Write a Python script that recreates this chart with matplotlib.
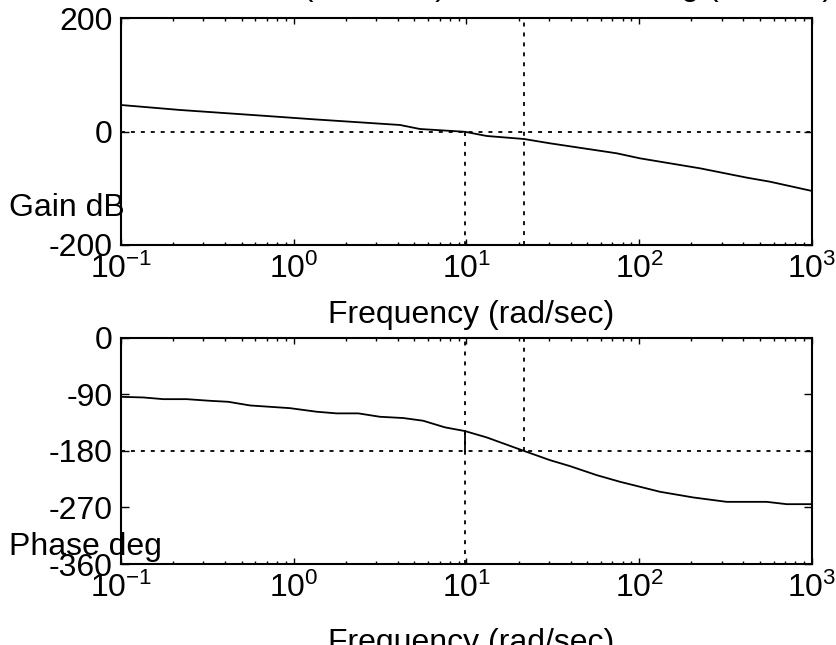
import numpy as np
import matplotlib
matplotlib.use('Agg')
import matplotlib.pyplot as plt
from matplotlib.ticker import LogLocator, NullFormatter, FixedLocator, FixedFormatter

plt.rcParams['font.family'] = ['Liberation Sans', 'DejaVu Sans']
plt.rcParams['mathtext.fontset'] = 'custom'
plt.rcParams['mathtext.rm'] = 'Liberation Sans'
plt.rcParams['mathtext.it'] = 'Liberation Sans:italic'
plt.rcParams['mathtext.bf'] = 'Liberation Sans:bold'

# ---- data ----
gain_freq = [0.1, 0.22, 0.70, 1.30, 4.12, 5.38, 9.79, 13.1, 21.5, 30.4, 74.0, 101.0, 225.0, 419.0, 570.0, 1000.0]
gain_db = [46.7, 37.9, 27.3, 21.5, 11.5, 4.4, -0.5, -7.9, -13.2, -20.8, -38.4, -47.3, -64.9, -81.3, -88.4, -104.8]

phase_freq = [0.1, 0.1346, 0.176, 0.240, 0.327, 0.418, 0.558, 0.951, 1.358, 1.77, 2.366, 3.155,
              4.305, 5.61, 7.50, 9.79, 13.09, 21.53, 30.4, 39.7, 56.6, 77.3, 131.8, 205.0,
              320.6, 545.8, 712.9, 1000.0]
phase_deg = [-94.3, -95.3, -98.0, -98.0, -100.6, -102.2, -108.0, -112.3, -118.0, -120.6, -120.6, -126.0,
             -128.0, -132.3, -142.8, -148.7, -158.8, -180.3, -194.9, -204.4, -218.7, -229.3, -245.2, -254.2,
             -261.2, -261.2, -264.9, -264.9]

gm_db = 13.16
w_gm = 21.54
pm_deg = 31.268
w_pm = 9.79
phase_at_wpm = -148.7

x_ticks = [0.1, 1, 10, 100, 1000]
x_labels = [r'$\mathregular{10^{-1}}$', r'$\mathregular{10^{0}}$', r'$\mathregular{10^{1}}$',
            r'$\mathregular{10^{2}}$', r'$\mathregular{10^{3}}$']
gain_ticks = [-200, 0, 200]
phase_ticks = [-360, -270, -180, -90, 0]

W, H = 837, 645
fig = plt.figure(figsize=(W / 100, H / 100), dpi=100)

def fx(px):
    return px / W

def fy(py):
    return 1 - py / H

left, right = 121, 812
ax1 = fig.add_axes([fx(left), fy(245), fx(right - left), (245 - 18) / H])
ax2 = fig.add_axes([fx(left), fy(564), fx(right - left), (564 - 337.5) / H])

FS = 23
dot = (0, (2.2, 3.3))

for ax in (ax1, ax2):
    ax.set_xscale('log')
    ax.set_xlim(0.1, 1000)
    ax.xaxis.set_major_locator(FixedLocator(x_ticks))
    ax.xaxis.set_major_formatter(FixedFormatter(x_labels))
    ax.xaxis.set_minor_locator(LogLocator(base=10, subs=np.arange(2, 10), numticks=20))
    ax.xaxis.set_minor_formatter(NullFormatter())
    ax.tick_params(which='both', direction='in', top=True, right=True, labelsize=FS, width=1.0, color='black')
    ax.tick_params(axis='x', which='major', length=4.5, pad=6)
    ax.tick_params(axis='x', which='minor', length=2.2)
    ax.tick_params(axis='y', which='major', length=5.5, pad=6)
    for s in ax.spines.values():
        s.set_linewidth(1.5)

# Gain plot
ax1.set_ylim(-200, 200)
ax1.set_yticks(gain_ticks)
ax1.set_yticklabels([str(t) for t in gain_ticks])
ax1.plot(gain_freq, gain_db, color='black', lw=1.3, zorder=3)
ax1.axhline(0, color='black', lw=1.3, linestyle=dot)
ax1.plot([w_pm, w_pm], [0, -200], color='black', lw=1.3, linestyle=dot)
ax1.plot([w_gm, w_gm], [-200, 200], color='black', lw=1.3, linestyle=dot)

# Phase plot
ax2.set_ylim(-360, 0)
ax2.set_yticks(phase_ticks)
ax2.set_yticklabels([str(t) for t in phase_ticks])
ax2.plot(phase_freq, phase_deg, color='black', lw=1.3, zorder=3)
ax2.axhline(-180, color='black', lw=1.3, linestyle=dot)
ax2.plot([w_pm, w_pm], [-360, 0], color='black', lw=1.3, linestyle=dot)
ax2.plot([w_gm, w_gm], [-180, 0], color='black', lw=1.3, linestyle=dot)
ax2.plot([w_pm, w_pm], [phase_at_wpm, -180], color='black', lw=1.3, zorder=3)

# labels
fig.text(fx(9), fy(216), 'Gain dB', fontsize=FS, ha='left', va='baseline')
fig.text(fx(9), fy(555), 'Phase deg', fontsize=FS, ha='left', va='baseline')
fig.text(fx(471), fy(323), 'Frequency (rad/sec)', fontsize=FS, ha='center', va='baseline')
fig.text(fx(471), fy(651), 'Frequency (rad/sec)', fontsize=FS, ha='center', va='baseline')

title = 'Gm=%.4g dB, (w=%.4g)   Pm=%.5g deg.(w=%.3g)' % (gm_db, w_gm, pm_deg, w_pm)
fig.text(fx(460), fy(-4.5), title, fontsize=FS, ha='center', va='baseline')

fig.savefig('out.png', dpi=100)
